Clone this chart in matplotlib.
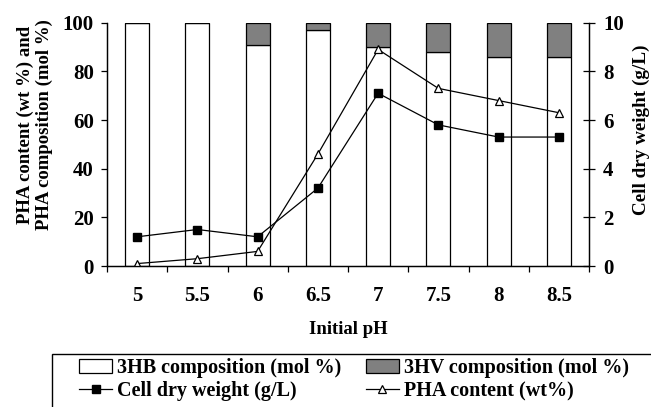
import matplotlib
matplotlib.use("Agg")
import matplotlib.pyplot as plt
from matplotlib.patches import Rectangle
import numpy as np

ph_labels = ["5", "5.5", "6", "6.5", "7", "7.5", "8", "8.5"]
hb_mol = [100, 100, 91, 97, 90, 88, 86, 86]
hv_mol = [0, 0, 9, 3, 10, 12, 14, 14]
pha_content = [1, 3, 6, 46, 89, 73, 68, 63]
cdw = [1.2, 1.5, 1.2, 3.2, 7.1, 5.8, 5.3, 5.3]

plt.rcParams["font.family"] = "Liberation Serif"
plt.rcParams["font.weight"] = "bold"

W, H = 651, 407
fig = plt.figure(figsize=(W / 100, H / 100), dpi=100)
ax = fig.add_axes([107 / W, 1 - 266 / H, (589 - 107) / W, (266 - 22.7) / H])
ax2 = ax.twinx()

x = np.arange(len(ph_labels))

b1 = ax.bar(x, hb_mol, width=0.4, color="white", edgecolor="black", linewidth=0.9,
            label="3HB composition (mol %)")
b2 = ax.bar(x, hv_mol, bottom=hb_mol, width=0.4, color="#808080", edgecolor="black",
            linewidth=0.9, label="3HV composition (mol %)")
l2, = ax.plot(x, pha_content, color="black", linewidth=0.9, marker="^", markersize=6,
              markerfacecolor="white", markeredgecolor="black", markeredgewidth=0.9,
              label="PHA content (wt%)", zorder=4)
l1, = ax2.plot(x, cdw, color="black", linewidth=0.9, marker="s", markersize=5.5,
               label="Cell dry weight (g/L)")

ax.set_xlim(-0.5, len(ph_labels) - 0.5)
ax.set_ylim(0, 100)
ax2.set_ylim(0, 10)

ax.set_xticks(np.arange(-0.5, len(ph_labels)))
ax.set_xticklabels([])
ax.set_xticks(x, minor=True)
ax.set_xticklabels(ph_labels, minor=True)
ax.tick_params(axis="x", which="major", direction="out", length=4.5, width=0.9)
ax.tick_params(axis="x", which="minor", length=0, pad=14.5, labelsize=15)
ax.set_yticks(range(0, 101, 20))
ax.tick_params(axis="y", direction="out", length=4.5, width=0.9, pad=5, labelsize=15)
ax2.set_yticks(range(0, 11, 2))
ax2.tick_params(axis="y", direction="inout", length=8.5, width=0.9, pad=6, labelsize=15)

for a in (ax, ax2):
    a.spines["top"].set_visible(False)
    for s in a.spines.values():
        s.set_linewidth(0.9)

ax.set_xlabel("Initial pH", fontsize=13.5, fontweight="bold", labelpad=11)
ax.set_ylabel("PHA content (wt %) and\nPHA composition (mol %)", fontsize=13.5,
              fontweight="bold", labelpad=7, linespacing=1.1)
ax.yaxis.label.set_y(0.58)
ax2.set_ylabel("Cell dry weight (g/L)", fontsize=13.8, fontweight="bold", labelpad=6)
ax2.yaxis.label.set_y(0.56)

fig.legend([b1, l1, b2, l2],
           ["3HB composition (mol %)", "Cell dry weight (g/L)",
            "3HV composition (mol %)", "PHA content (wt%)"],
           ncol=2, loc="upper left", bbox_to_anchor=(79 / W, 1 - 358 / H),
           frameon=False, fontsize=14.5, handlelength=1.65, handletextpad=0.25,
           columnspacing=1.2, labelspacing=0.15, borderaxespad=0, borderpad=0)

fig.patches.append(Rectangle((52 / W, -0.1), 1.2, 0.1 + (H - 354) / H, transform=fig.transFigure,
                             fill=False, edgecolor="black", linewidth=1.0))

fig.savefig("out.png", dpi=100)
